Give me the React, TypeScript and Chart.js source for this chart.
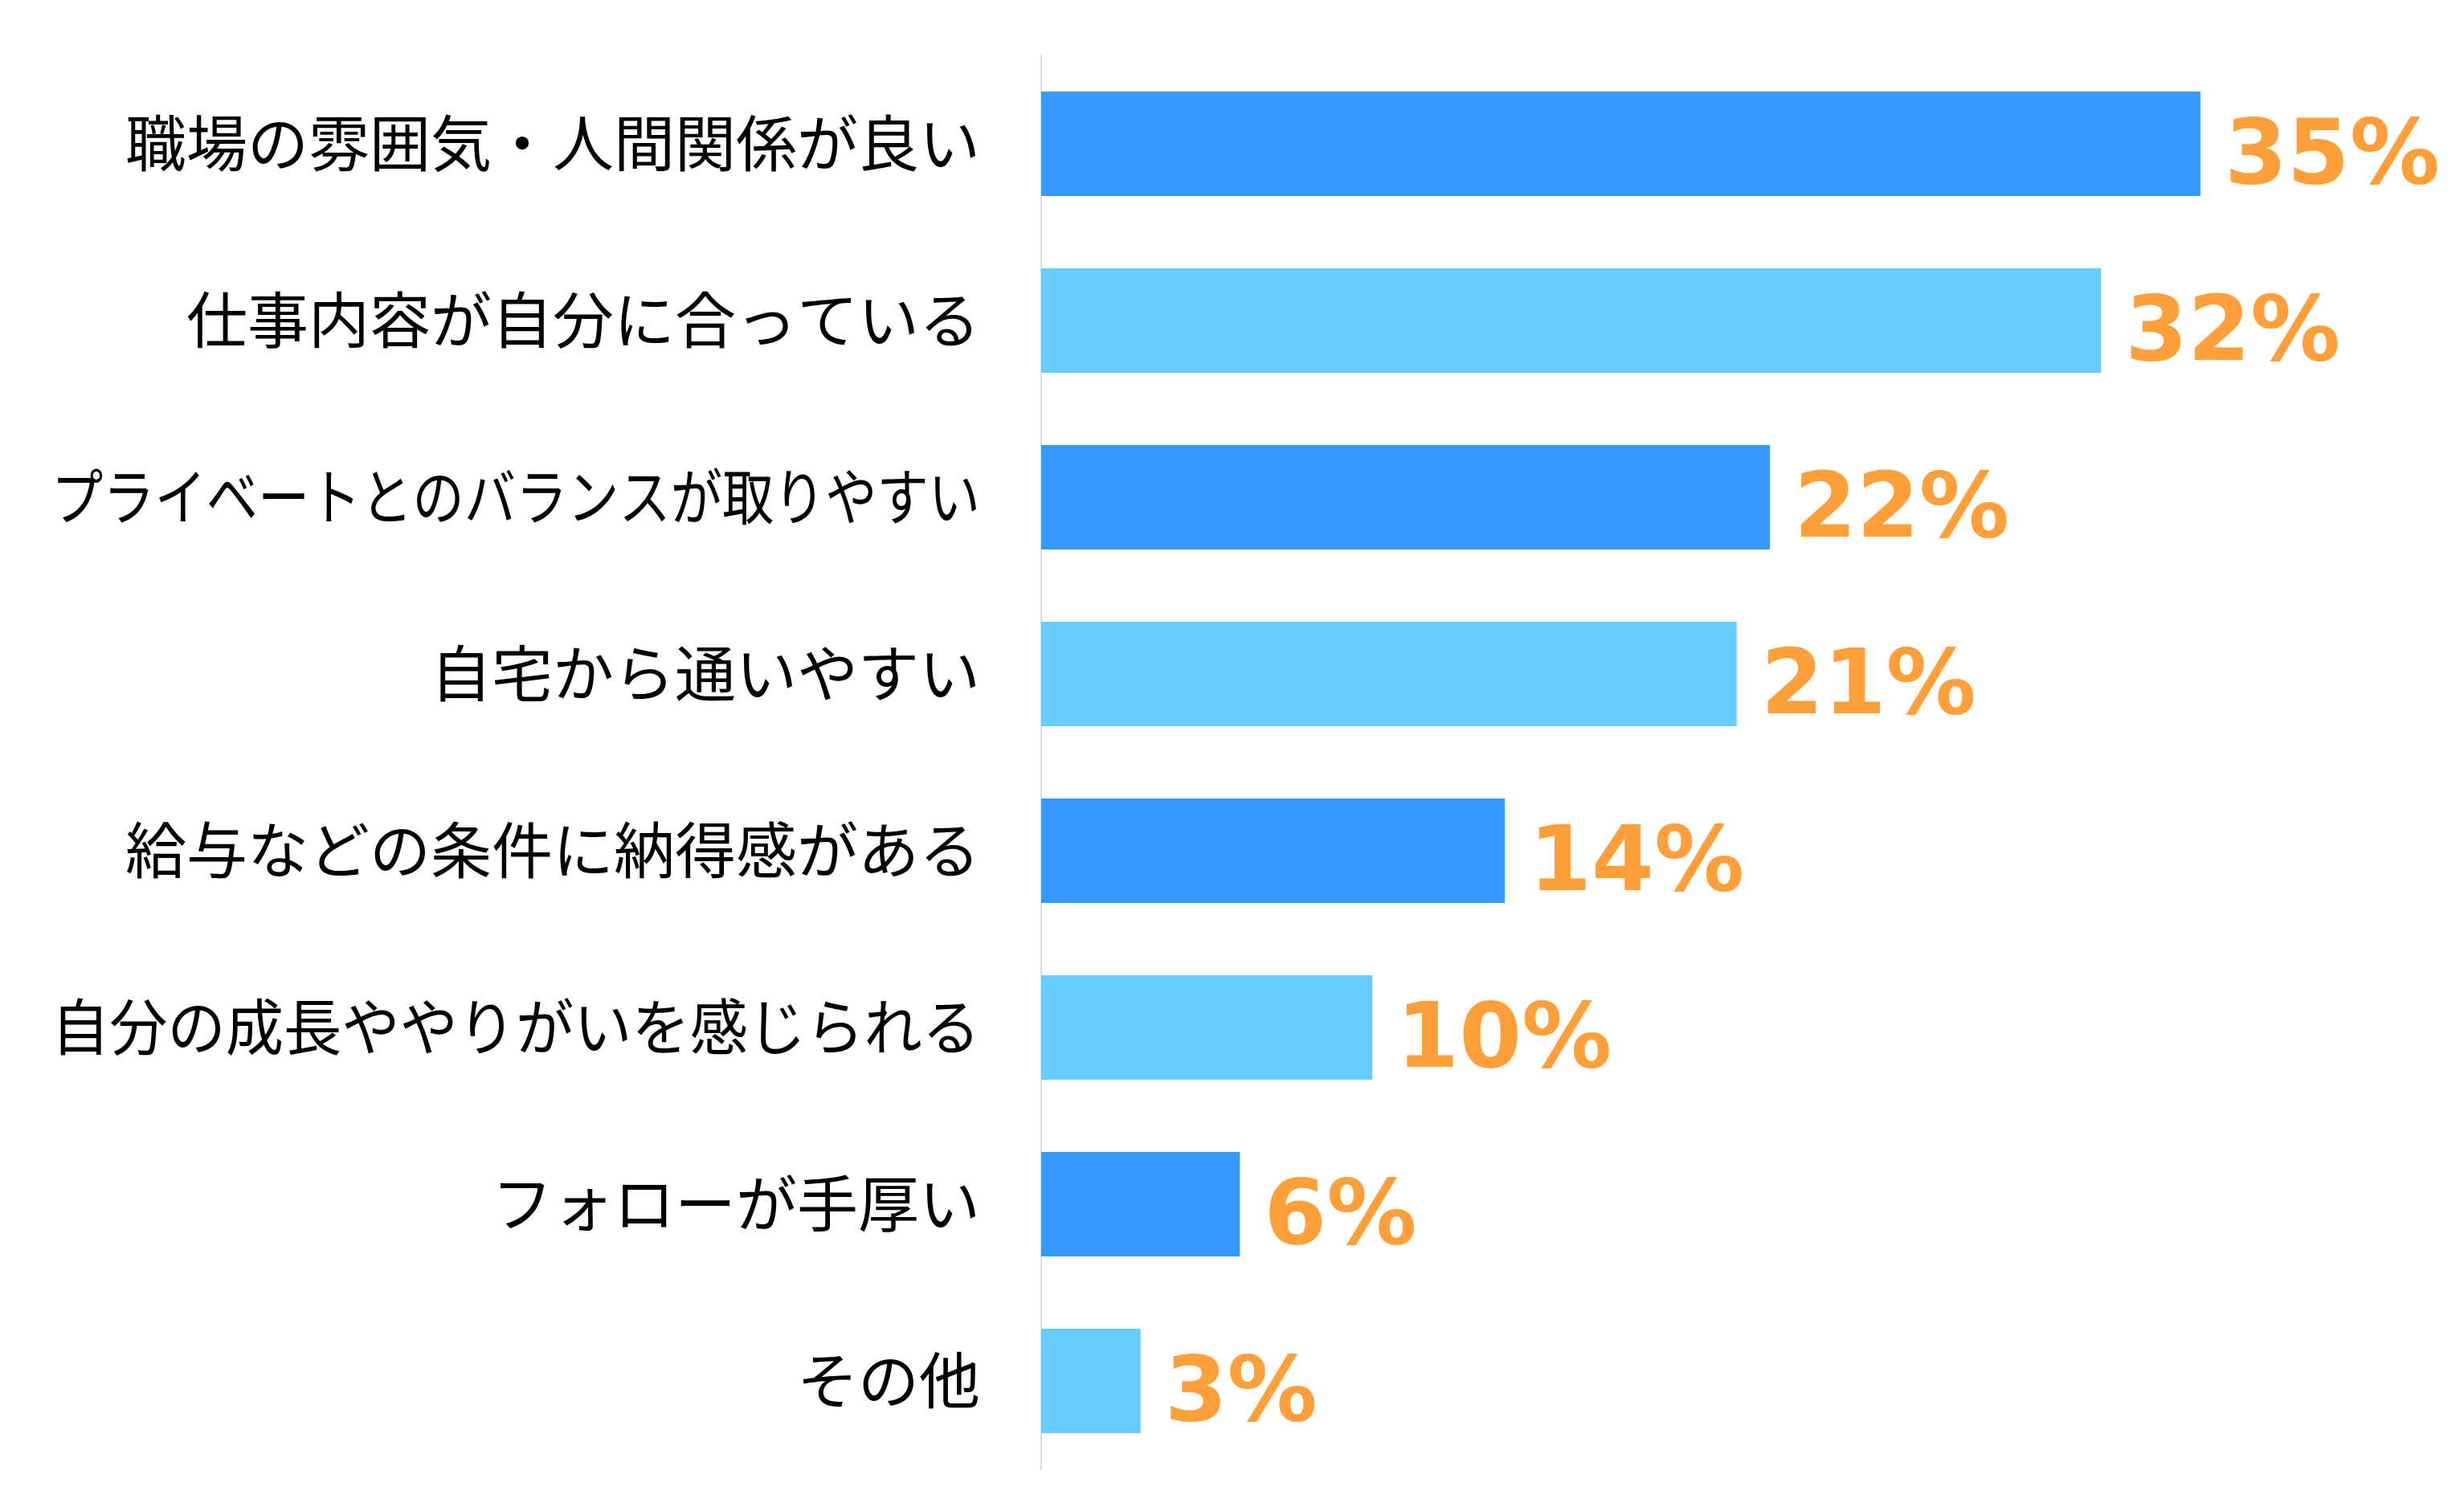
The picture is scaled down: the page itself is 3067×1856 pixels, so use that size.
import React, { useEffect, useRef } from "react";
import { Chart, registerables } from "chart.js";

Chart.register(...registerables);

// Reasons given, ordered from most to least common
const categories: string[] = [
  "職場の雰囲気・人間関係が良い",
  "仕事内容が自分に合っている",
  "プライベートとのバランスが取りやすい",
  "自宅から通いやすい",
  "給与などの条件に納得感がある",
  "自分の成長ややりがいを感じられる",
  "フォローが手厚い",
  "その他",
];

// Share of respondents (%)
const values: number[] = [35, 32, 22, 21, 14, 10, 6, 3];

const DARK_BLUE = "#3599FF";
const LIGHT_BLUE = "#66CBFF";
const ORANGE = "#FF9F3A";

const CATEGORY_FONT = '76px "Noto Sans CJK JP", "Noto Sans CJK SC", sans-serif';
const VALUE_FONT = 'bold 112px "DejaVu Sans", Verdana, sans-serif';

// Category names, right-aligned to the left of the axis line
const categoryLabels = {
  id: "categoryLabels",
  afterDraw(chart: any) {
    const { ctx, chartArea } = chart;
    const yScale = chart.scales.y;
    ctx.save();
    ctx.font = CATEGORY_FONT;
    ctx.fillStyle = "#000000";
    ctx.textAlign = "right";
    ctx.textBaseline = "alphabetic";
    const right = chartArea.left - 76;
    categories.forEach((label, i) => {
      const py = yScale.getPixelForValue(i);
      ctx.fillText(label, right, py + 28, right - 64);
    });
    ctx.restore();
  },
};

// Percentage labels just past the end of each bar
const valueLabels = {
  id: "valueLabels",
  afterDatasetsDraw(chart: any) {
    const { ctx } = chart;
    const meta = chart.getDatasetMeta(0);
    ctx.save();
    ctx.font = VALUE_FONT;
    ctx.fillStyle = ORANGE;
    ctx.textAlign = "left";
    ctx.textBaseline = "alphabetic";
    meta.data.forEach((bar: any, i: number) => {
      ctx.fillText(`${values[i]}%`, bar.x + 30, bar.y + 49);
    });
    ctx.restore();
  },
};

export default function App() {
  const canvasRef = useRef<HTMLCanvasElement | null>(null);

  useEffect(() => {
    if (!canvasRef.current) return;
    const chart = new Chart(canvasRef.current, {
      type: "bar",
      data: {
        labels: categories,
        datasets: [
          {
            data: values,
            backgroundColor: (c: any) => (c.dataIndex % 2 === 0 ? DARK_BLUE : LIGHT_BLUE),
            borderWidth: 0,
            barPercentage: 0.59,
            categoryPercentage: 1,
          },
        ],
      },
      options: {
        indexAxis: "y",
        responsive: true,
        maintainAspectRatio: false,
        animation: false,
        layout: { padding: { top: 69, bottom: 27, left: 0, right: 122 } },
        plugins: {
          legend: { display: false },
          tooltip: { enabled: false },
          title: { display: false },
        },
        scales: {
          x: {
            display: false,
            min: 0,
            max: 40,
            grid: { display: false },
          },
          y: {
            grid: { display: false, drawTicks: false },
            border: { display: true, color: "#D9D9D9", width: 2 },
            ticks: { display: false },
            afterFit: (scale: any) => {
              scale.width = 1296;
            },
          },
        },
      },
      plugins: [categoryLabels, valueLabels],
    });
    return () => chart.destroy();
  }, []);

  return (
    <div
      style={{
        position: "absolute",
        left: 0,
        top: 0,
        width: "3067px",
        height: "1856px",
        background: "#ffffff",
      }}
    >
      <canvas ref={canvasRef} />
    </div>
  );
}
